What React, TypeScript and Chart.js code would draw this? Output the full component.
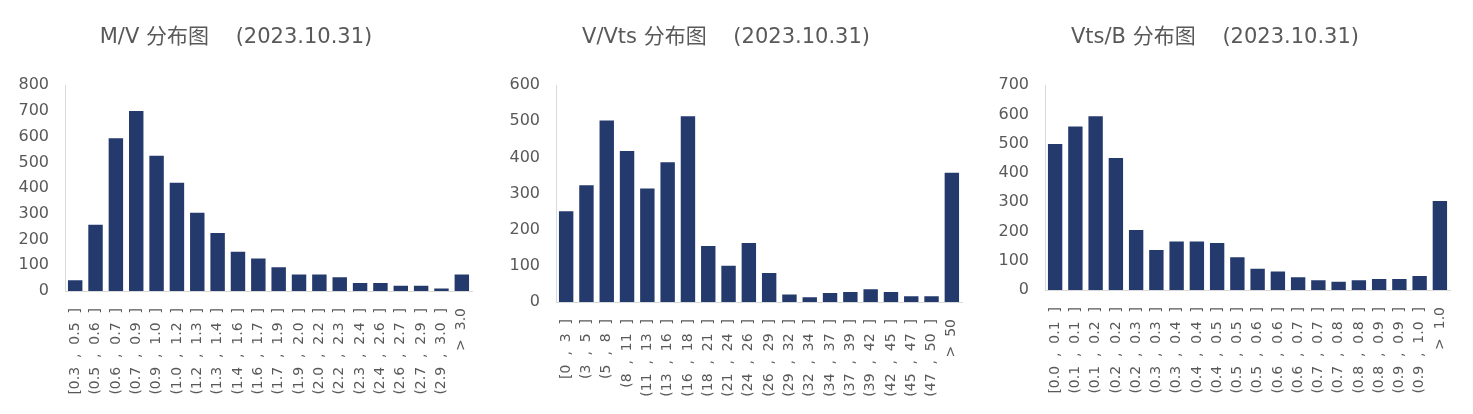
import React, { useEffect, useRef } from "react";
import { Chart, registerables } from "chart.js";
Chart.register(...registerables);

const DATE_TEXT = "(2023.10.31)";

const MV_TITLE = "M/V 分布图";
const MV_LABELS = [
  "[0.3  ,  0.5  ]", "(0.5  ,  0.6  ]", "(0.6  ,  0.7  ]", "(0.7  ,  0.9  ]", "(0.9  ,  1.0  ]",
  "(1.0  ,  1.2  ]", "(1.2  ,  1.3  ]", "(1.3  ,  1.4  ]", "(1.4  ,  1.6  ]", "(1.6  ,  1.7  ]",
  "(1.7  ,  1.9  ]", "(1.9  ,  2.0  ]", "(2.0  ,  2.2  ]", "(2.2  ,  2.3  ]", "(2.3  ,  2.4  ]",
  "(2.4  ,  2.6  ]", "(2.6  ,  2.7  ]", "(2.7  ,  2.9  ]", "(2.9  ,  3.0  ]", ">  3.0",
];
const MV_VALUES = [42, 258, 594, 700, 526, 421, 304, 225, 153, 126, 92, 64, 64, 53, 31, 31, 20, 20, 10, 64];
const MV_MAX = 800;

const VVTS_TITLE = "V/Vts 分布图";
const VVTS_LABELS = [
  "[0  ,  3  ]", "(3  ,  5  ]", "(5  ,  8  ]", "(8  ,  11  ]", "(11  ,  13  ]",
  "(13  ,  16  ]", "(16  ,  18  ]", "(18  ,  21  ]", "(21  ,  24  ]", "(24  ,  26  ]",
  "(26  ,  29  ]", "(29  ,  32  ]", "(32  ,  34  ]", "(34  ,  37  ]", "(37  ,  39  ]",
  "(39  ,  42  ]", "(42  ,  45  ]", "(45  ,  47  ]", "(47  ,  50  ]", ">  50",
];
const VVTS_VALUES = [251, 323, 502, 418, 314, 387, 514, 155, 100, 163, 80, 21, 13, 25, 28, 35, 28, 16, 16, 358];
const VVTS_MAX = 600;

const VTSB_TITLE = "Vts/B 分布图";
const VTSB_LABELS = [
  "[0.0  ,  0.1  ]", "(0.1  ,  0.1  ]", "(0.1  ,  0.2  ]", "(0.2  ,  0.2  ]", "(0.2  ,  0.3  ]",
  "(0.3  ,  0.3  ]", "(0.3  ,  0.4  ]", "(0.4  ,  0.4  ]", "(0.4  ,  0.5  ]", "(0.5  ,  0.5  ]",
  "(0.5  ,  0.6  ]", "(0.6  ,  0.6  ]", "(0.6  ,  0.7  ]", "(0.7  ,  0.7  ]", "(0.7  ,  0.8  ]",
  "(0.8  ,  0.8  ]", "(0.8  ,  0.9  ]", "(0.9  ,  0.9  ]", "(0.9  ,  1.0  ]", ">  1.0",
];
const VTSB_VALUES = [499, 559, 594, 451, 205, 137, 166, 166, 161, 112, 73, 63, 44, 33, 28, 33, 38, 38, 48, 304];
const VTSB_MAX = 700;

const BAR_COLOR = "#243A6D";
const TEXT_COLOR = "#595959";
const AXIS_COLOR = "#D9D9D9";
const LATIN_FONT = "'DejaVu Sans', 'Noto Sans CJK SC', sans-serif";

type PanelProps = {
  left: number;
  width: number;
  title: string;
  labels: string[];
  values: number[];
  max: number;
  yWidth: number;
  padRight: number;
  xHeight: number;
};

function Panel(p: PanelProps) {
  const ref = useRef<HTMLCanvasElement | null>(null);
  useEffect(() => {
    if (!ref.current) return;
    const chart = new Chart(ref.current, {
      type: "bar",
      data: {
        labels: p.labels,
        datasets: [
          {
            data: p.values,
            backgroundColor: BAR_COLOR,
            borderWidth: 0,
            categoryPercentage: 1,
            barPercentage: 0.71,
          },
        ],
      },
      options: {
        responsive: false,
        animation: false,
        layout: { padding: { left: 0, right: p.padRight, top: 0, bottom: 0 } },
        plugins: {
          legend: { display: false },
          tooltip: { enabled: false },
          title: {
            display: true,
            text: p.title + "    " + DATE_TEXT,
            color: TEXT_COLOR,
            font: { family: LATIN_FONT, size: 21, weight: "normal", lineHeight: 1.2 },
            padding: { top: 25, bottom: 35 },
          },
        },
        scales: {
          x: {
            grid: { display: false },
            border: { display: true, color: AXIS_COLOR, width: 1 },
            ticks: {
              autoSkip: false,
              minRotation: 90,
              maxRotation: 90,
              padding: 9,
              color: TEXT_COLOR,
              font: { family: LATIN_FONT, size: 14 },
            },
            afterFit: (s: any) => {
              s.height = p.xHeight;
            },
          },
          y: {
            min: 0,
            max: p.max,
            grid: { display: false },
            border: { display: true, color: AXIS_COLOR, width: 1 },
            ticks: {
              stepSize: 100,
              padding: 8,
              color: TEXT_COLOR,
              font: { family: LATIN_FONT, size: 16 },
            },
            afterFit: (s: any) => {
              s.width = p.yWidth;
            },
          },
        },
      },
    });
    return () => chart.destroy();
  }, []);
  return (
    <div style={{ position: "absolute", left: p.left, top: 0, width: p.width, height: 414 }}>
      <canvas ref={ref} width={p.width} height={414} style={{ display: "block" }} />
    </div>
  );
}

export default function App() {
  return (
    <div style={{ position: "absolute", left: 0, top: 0, width: 1473, height: 414, background: "#fff" }}>
      <Panel left={0} width={490} title={MV_TITLE} labels={MV_LABELS} values={MV_VALUES} max={MV_MAX} yWidth={65} padRight={18} xHeight={123} />
      <Panel left={490} width={490} title={VVTS_TITLE} labels={VVTS_LABELS} values={VVTS_VALUES} max={VVTS_MAX} yWidth={66} padRight={18} xHeight={112} />
      <Panel left={980} width={493} title={VTSB_TITLE} labels={VTSB_LABELS} values={VTSB_VALUES} max={VTSB_MAX} yWidth={65} padRight={23} xHeight={124} />
    </div>
  );
}
